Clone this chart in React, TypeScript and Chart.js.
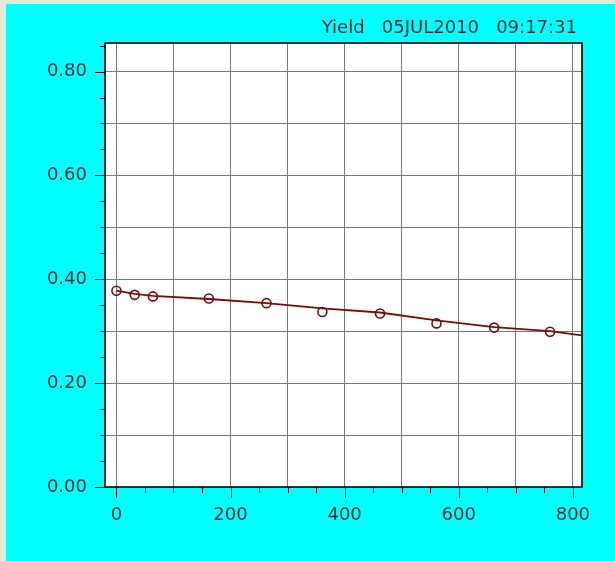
import React, { useEffect, useRef } from "react";
import { Chart, registerables } from "chart.js";

Chart.register(...registerables);

const titleText = "Yield   05JUL2010   09:17:31";

// measured samples (open circles)
const sampleX = [0, 32, 64, 162, 263, 361, 462, 561, 662, 760];
const sampleY = [0.378, 0.37, 0.367, 0.363, 0.354, 0.337, 0.334, 0.315, 0.307, 0.299];

// fitted curve (solid line)
const fitX = [0, 32, 64, 162, 263, 361, 462, 561, 662, 760, 816];
const fitY = [0.378, 0.372, 0.368, 0.362, 0.354, 0.344, 0.336, 0.321, 0.308, 0.3, 0.292];

const xTickValues = [0, 50, 100, 150, 200, 250, 300, 350, 400, 450, 500, 550, 600, 650, 700, 750, 800];
const xGridValues = [0, 100, 200, 300, 400, 500, 600, 700, 800];
const xLabelValues = [0, 200, 400, 600, 800];

const yTickValues = [0, 0.05, 0.1, 0.15, 0.2, 0.25, 0.3, 0.35, 0.4, 0.45, 0.5, 0.55, 0.6, 0.65, 0.7, 0.75, 0.8, 0.85];
const yGridValues = [0.1, 0.2, 0.3, 0.4, 0.5, 0.6, 0.7, 0.8];
const yLabelValues = [0, 0.2, 0.4, 0.6, 0.8];

const X_MIN = -20;
const X_MAX = 816;
const Y_MIN = 0;
const Y_MAX = 0.855;

const BEIGE = "#EEE6D4";
const CYAN = "#00FFFF";
const TEXT = "#0f2c36";
const GRID = "#7a7a7a";
const RED = "#7a0c0c";
const FONT = "'DejaVu Sans', sans-serif";

const has = (arr: number[], v: number) => arr.some((a) => Math.abs(a - v) < 1e-6);

const framePlugin = {
  id: "framePlugin",
  beforeDraw(chart: any) {
    const { ctx, width, height, chartArea } = chart;
    ctx.save();
    ctx.fillStyle = BEIGE;
    ctx.fillRect(0, 0, width, height);
    ctx.fillStyle = CYAN;
    ctx.fillRect(6, 4, width - 6, height - 4);
    ctx.fillStyle = "#ffffff";
    ctx.fillRect(chartArea.left, chartArea.top, chartArea.right - chartArea.left, chartArea.bottom - chartArea.top);
    ctx.restore();
  },
  beforeDatasetsDraw(chart: any) {
    const { ctx, chartArea, scales } = chart;
    const { left, right, top, bottom } = chartArea;
    ctx.save();
    ctx.strokeStyle = "#000000";
    ctx.lineWidth = 1;
    ctx.beginPath();
    yTickValues.forEach((v) => {
      const y = Math.round(scales.y.getPixelForValue(v)) + 0.5;
      const len = has(yLabelValues, v) ? 10 : 5;
      ctx.moveTo(left - len, y);
      ctx.lineTo(left, y);
    });
    xTickValues.forEach((v) => {
      const x = Math.round(scales.x.getPixelForValue(v)) + 0.5;
      const len = has(xLabelValues, v) ? 11 : 6;
      ctx.moveTo(x, bottom);
      ctx.lineTo(x, bottom + len);
    });
    ctx.stroke();
    ctx.lineWidth = 1.6;
    ctx.strokeRect(Math.round(left), Math.round(top), Math.round(right - left), Math.round(bottom - top));
    ctx.restore();

    ctx.save();
    ctx.fillStyle = TEXT;
    ctx.font = `18px ${FONT}`;
    ctx.textAlign = "right";
    ctx.textBaseline = "middle";
    ctx.fillText(titleText, 577, 28);
    ctx.restore();
  },
};

export default function App() {
  const ref = useRef<HTMLCanvasElement | null>(null);

  useEffect(() => {
    if (!ref.current) return;
    const chart = new Chart(ref.current, {
      type: "scatter",
      data: {
        datasets: [
          {
            label: "fit",
            data: fitX.map((x, i) => ({ x, y: fitY[i] })),
            showLine: true,
            borderColor: RED,
            borderWidth: 1.8,
            pointRadius: 0,
            tension: 0,
          },
          {
            label: "Yield",
            data: sampleX.map((x, i) => ({ x, y: sampleY[i] })),
            showLine: false,
            borderColor: RED,
            backgroundColor: "rgba(255,255,255,0)",
            borderWidth: 1.6,
            pointRadius: 4.5,
            pointStyle: "circle",
          },
        ],
      },
      options: {
        responsive: false,
        animation: false,
        devicePixelRatio: 1,
        layout: { padding: { left: 0, top: 43, right: 33, bottom: 0 } },
        plugins: {
          legend: { display: false },
          tooltip: { enabled: false },
          title: { display: false },
        },
        scales: {
          x: {
            type: "linear",
            min: X_MIN,
            max: X_MAX,
            afterBuildTicks: (scale: any) => {
              scale.ticks = xTickValues.map((value) => ({ value }));
            },
            afterFit: (scale: any) => {
              scale.height = 74;
            },
            border: { display: false },
            grid: {
              drawTicks: false,
              color: (c: any) => (has(xGridValues, c.tick?.value) ? GRID : "rgba(0,0,0,0)"),
              lineWidth: 1,
            },
            ticks: {
              autoSkip: false,
              maxRotation: 0,
              padding: 18,
              color: TEXT,
              font: { family: FONT, size: 18 },
              callback: (v: any) => (has(xLabelValues, Number(v)) ? String(Number(v)) : ""),
            },
          },
          y: {
            type: "linear",
            min: Y_MIN,
            max: Y_MAX,
            afterBuildTicks: (scale: any) => {
              scale.ticks = yTickValues.map((value) => ({ value }));
            },
            afterFit: (scale: any) => {
              scale.width = 105;
            },
            border: { display: false },
            grid: {
              drawTicks: false,
              color: (c: any) => (has(yGridValues, c.tick?.value) ? GRID : "rgba(0,0,0,0)"),
              lineWidth: 1,
            },
            ticks: {
              autoSkip: false,
              padding: 18,
              color: TEXT,
              font: { family: FONT, size: 18 },
              callback: (v: any) => (has(yLabelValues, Number(v)) ? Number(v).toFixed(2) : ""),
            },
          },
        },
      },
      plugins: [framePlugin],
    });
    return () => chart.destroy();
  }, []);

  return (
    <div style={{ position: "fixed", left: 0, top: 0, width: 615, height: 561 }}>
      <canvas ref={ref} width={615} height={561} style={{ display: "block" }} />
    </div>
  );
}
